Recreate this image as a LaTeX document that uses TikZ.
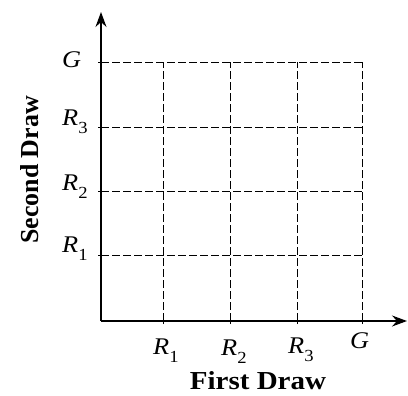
\documentclass[tikz,border=0pt]{standalone}
\usepackage{fontspec}
\setmainfont{Liberation Serif}
\usetikzlibrary{arrows.meta}
\newcommand{\rlab}[2]{\textit{#1}\raisebox{-8bp}{\fontsize{17}{17}\selectfont #2}}
\begin{document}
\begin{tikzpicture}[x=1bp,y=-1bp,
  axis/.style={line width=1.2bp,-{Stealth[length=15bp,width=11bp,inset=5bp]}},
  gridline/.style={line width=0.9bp,dash pattern=on 8bp off 3bp},
  tick/.style={line width=0.9bp},
  lab/.style={font=\fontsize{24}{24}\selectfont,xscale=1.1,inner sep=0pt,anchor=base west},
  title/.style={font=\fontsize{26}{26}\selectfont\bfseries,inner sep=0pt}]
\useasboundingbox (0,0) rectangle (408,396);
% coordinates
\coordinate (O) at (101,321);
\coordinate (xend) at (407,321);
\coordinate (yend) at (101,12);
\coordinate (x1) at (163,321); \coordinate (x2) at (230,321);
\coordinate (x3) at (297,321); \coordinate (x4) at (362,321);
\coordinate (t1) at (163,62); \coordinate (t2) at (230,62);
\coordinate (t3) at (297,62); \coordinate (t4) at (362,62);
\coordinate (y1) at (101,255); \coordinate (y2) at (101,191);
\coordinate (y3) at (101,127); \coordinate (y4) at (101,62);
\coordinate (r1) at (362,255); \coordinate (r2) at (362,191);
\coordinate (r3) at (362,127); \coordinate (r4) at (362,62);
% grid
\foreach \i in {1,2,3,4}{
  \draw[gridline] (x\i) -- (t\i);
  \draw[gridline] (y\i) -- (r\i);
  \draw[tick] ([yshift=-3bp]x\i) -- ([yshift=3bp]x\i);
  \draw[tick] ([xshift=-3bp]y\i) -- ([xshift=3bp]y\i);
}
% axes
\draw[axis] (O) -- (xend);
\draw[axis] (O) -- (yend);
% x labels
\node[lab] (lx1) at (153,354) {\rlab{R}{1}};
\node[lab] (lx2) at (221,355) {\rlab{R}{2}};
\node[lab] (lx3) at (288,353) {\rlab{R}{3}};
\node[lab] (lx4) at (350,348) {\textit{G}};
% y labels
\node[lab] (ly1) at (62,252) {\rlab{R}{1}};
\node[lab] (ly2) at (62,190) {\rlab{R}{2}};
\node[lab] (ly3) at (62,125) {\rlab{R}{3}};
\node[lab] (ly4) at (62,67) {\textit{G}};
% titles
\node[title,anchor=base,xscale=1.12] (tx) at (258,389) {First Draw};
\node[title,anchor=base,rotate=90] (ty) at (38,170) {Second Draw};
\end{tikzpicture}
\end{document}
